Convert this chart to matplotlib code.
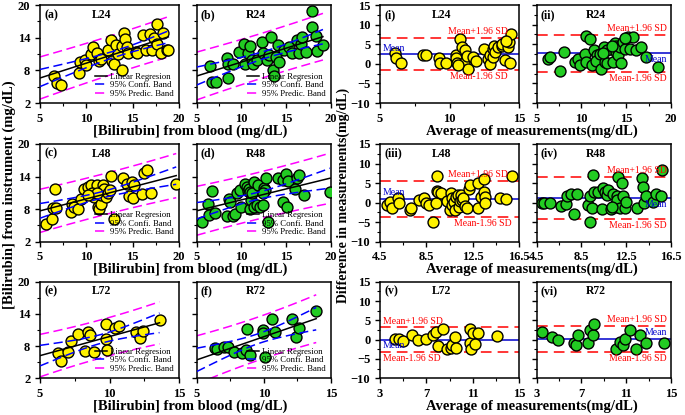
import numpy as np
import matplotlib
import matplotlib.pyplot as plt
from matplotlib.ticker import AutoMinorLocator

matplotlib.use("agg")

plt.rcParams["font.family"] = ["Liberation Serif", "DejaVu Serif"]
plt.rcParams["font.weight"] = "bold"

# ---- scatter data: blood (x) vs instrument (y) ----
l24_x = [6.55, 6.87, 7.27, 9.2, 9.3, 9.86, 9.96, 10.47, 10.76, 11.2, 11.37, 11.6, 12.3, 12.7,
         12.8, 12.98, 13.2, 13.45, 13.8, 13.8, 14.07, 14.2, 14.35, 14.5, 15.36, 15.5, 16.1,
         16.4, 16.87, 17.05, 17.3, 17.6, 17.65, 18.1, 18.24, 18.67, 18.85]
l24_y = [6.9, 5.7, 5.3, 7.5, 9.6, 9.9, 8.9, 11.0, 12.2, 11.2, 9.7, 10.0, 11.8, 13.5,
         9.7, 9.1, 12.6, 11.0, 12.4, 8.1, 14.8, 13.7, 12.3, 11.1, 11.4, 11.2, 14.5,
         11.8, 14.6, 11.8, 13.9, 16.5, 12.9, 11.1, 14.8, 11.8, 11.7]
r24_x = [6.49, 6.75, 7.2, 8.35, 8.46, 8.46, 9.1, 9.76, 10.3, 10.38, 10.7, 11.0, 11.2, 11.3,
         11.7, 12.26, 12.44, 12.8, 13.07, 13.3, 13.56, 13.63, 13.9, 14.1, 14.2, 14.75, 15.35,
         15.6, 16.24, 16.46, 16.65, 16.8, 17.2, 17.84, 17.9, 18.3, 18.4, 19.1]
r24_y = [8.76, 5.87, 5.87, 10.2, 9.25, 6.67, 9.25, 11.4, 12.8, 9.25, 11.2, 12.4, 9.9, 9.25,
         9.9, 13.2, 11.1, 9.9, 10.8, 14.2, 8.0, 7.0, 10.5, 12.6, 9.6, 11.8, 12.3,
         11.2, 13.5, 11.1, 12.9, 14.2, 11.4, 18.9, 16.0, 14.3, 11.6, 12.6]
l48_x = [5.63, 6.3, 6.36, 6.77, 6.6, 8.3, 8.5, 8.7, 9.1, 9.4, 9.8, 10.2, 10.5, 10.8, 11.1,
         11.2, 11.27, 11.37, 11.6, 11.6, 11.8, 11.9, 12.1, 12.3, 12.55, 12.7, 13.0, 14.0,
         14.4, 14.6, 14.9, 15.0, 15.1, 16.0, 16.2, 16.5, 16.98, 19.7, 10.6, 11.1, 10.2]
l48_y = [5.3, 6.2, 8.2, 8.2, 11.8, 7.5, 9.0, 8.4, 8.0, 9.8, 11.8, 12.1, 12.4, 10.3, 11.5,
         12.4, 8.4, 8.0, 9.0, 10.6, 12.4, 11.7, 10.3, 10.9, 11.5, 14.1, 6.2, 13.8,
         12.7, 10.4, 13.0, 10.1, 12.4, 10.7, 14.7, 15.2, 10.9, 12.7, 10.9, 10.9, 10.6]
r48_x = [5.56, 6.3, 6.38, 6.75, 7.05, 8.35, 8.65, 8.7, 9.1, 9.3, 9.55, 9.85, 10.0, 10.4,
         10.66, 10.75, 10.86, 10.9, 11.0, 11.07, 11.2, 11.35, 11.45, 11.7, 11.9, 12.07,
         12.44, 12.5, 12.6, 12.7, 12.96, 12.4, 14.1, 14.6, 14.6, 14.97, 15.05, 15.2, 15.98,
         16.2, 16.46, 17.0, 19.9]
r48_y = [5.7, 9.0, 7.0, 11.4, 7.2, 6.7, 9.8, 9.3, 6.8, 7.1, 10.9, 11.5, 8.4, 12.6,
         12.1, 11.3, 11.8, 11.2, 8.0, 9.6, 10.9, 13.0, 8.4, 8.7, 12.4, 8.4,
         8.8, 11.9, 11.5, 13.8, 5.7, 10.9, 13.8, 13.4, 9.3, 14.4, 8.4, 13.2, 11.8,
         13.8, 14.2, 10.6, 11.2]
l72_x = [6.3, 6.5, 7.04, 7.2, 7.76, 8.24, 8.48, 8.6, 8.9, 9.75, 9.75, 9.84, 10.4, 10.7,
         11.9, 12.2, 12.4, 13.6]
l72_y = [6.65, 5.3, 6.97, 8.95, 10.2, 7.1, 10.7, 10.1, 6.85, 12.2, 9.3, 7.3, 11.3, 11.8,
         10.6, 9.6, 10.8, 12.9]
r72_x = [6.36, 6.5, 7.06, 7.3, 7.8, 8.4, 8.65, 8.72, 9.0, 9.9, 9.9, 10.05, 10.6, 10.85,
         12.1, 12.4, 12.6, 13.9]
r72_y = [7.7, 7.45, 7.9, 7.8, 6.85, 6.65, 7.3, 11.1, 6.3, 11.0, 10.4, 5.9, 13.0, 10.6,
         13.1, 9.7, 11.3, 14.6]

# ---- Bland-Altman data: average (x) vs difference (y) ----
ba_l24_x = [6.08, 6.15, 6.5, 8.1, 8.3, 9.24, 9.3, 9.75, 10.44, 10.5, 10.56, 10.75, 10.88, 11.1,
            11.04, 11.24, 11.3, 10.6, 11.7, 11.9, 12.5, 12.75, 12.9, 12.9, 13.1, 13.15, 13.2,
            13.3, 13.5, 13.75, 13.8, 14.0, 14.2, 14.3, 14.35, 14.4, 14.1]
ba_l24_y = [2.8, 1.6, 0.24, 2.37, 2.37, 1.6, 0.24, 0.24, 2.37, 1.6, 0.24, 6.2, 4.33, 3.5,
            0.24, 1.95, -1.2, -0.2, 1.8, 0.7, 3.65, 1.1, 2.37, -0.1, 3.65, 1.8, 4.5,
            3.05, 4.33, 4.5, 5.0, 0.9, 4.33, 5.6, 0.24, 7.5, 5.9]
ba_r24_x = [6.3, 6.5, 7.6, 8.05, 9.28, 9.65, 9.84, 10.4, 10.5, 10.5, 11.0, 11.14, 11.4, 11.7,
            11.6, 12.07, 12.15, 12.5, 12.63, 12.8, 12.8, 13.56, 13.75, 13.9, 13.86, 14.1, 14.3,
            14.4, 14.6, 14.86, 15.16, 15.4, 15.8, 16.1, 16.65, 17.2, 18.58, 14.86, 12.44, 13.37]
ba_r24_y = [1.35, 1.77, -1.8, 3.05, 0.5, 1.1, -0.4, 2.6, 7.2, 0.5, 6.2, -0.4, 3.5, 2.2,
            0.75, 2.6, -1.2, 4.33, 0.5, 3.5, 0.24, 0.5, 5.35, 4.5, 3.05, 2.2, 4.2,
            0.24, 5.6, 3.65, 6.9, 3.65, 6.9, 3.5, 4.33, 1.8, -0.8, 6.7, 2.7, 4.6]
ba_l48_x = [5.1, 5.33, 5.5, 6.06, 6.1, 7.1, 7.2, 7.9, 8.33, 8.5, 8.7, 9.1, 9.3, 9.4, 9.44,
            9.53, 9.77, 10.3, 10.5, 10.6, 10.7, 10.7, 10.9, 10.99, 11.1, 11.2, 11.3, 11.4,
            11.5, 11.6, 11.7, 11.8, 12.0, 12.2, 12.3, 13.0, 13.0, 13.2, 13.5, 13.5, 13.6,
            13.6, 14.9, 15.4, 15.9]
ba_l48_y = [-0.6, 0.26, -1.3, 1.3, 0.0, -1.9, -1.5, 0.7, 1.3, 0.0, -0.6, -5.05, -0.2, 3.0, 6.7,
            2.65, 2.4, 0.4, -1.9, 2.4, 1.3, -0.6, 0.26, -1.9, 1.5, 2.0, -1.0, 0.4,
            2.0, 0.7, 1.3, -0.9, -1.3, 3.5, 4.55, 5.0, -1.5, 1.5, 6.0, 2.65, 1.5,
            -0.2, 1.3, 0.94, 6.7]
ba_r48_x = [4.95, 5.15, 5.7, 6.7, 7.1, 7.2, 7.6, 7.8, 8.1, 9.1, 9.26, 9.3, 9.4, 9.56, 9.6,
            10.0, 10.3, 10.4, 10.6, 10.75, 10.9, 11.1, 11.35, 11.5, 11.6, 11.65, 11.7, 11.8,
            11.9, 12.1, 12.25, 12.4, 12.5, 13.45, 13.9, 13.97, 14.1, 14.3, 14.9, 15.2, 15.6,
            15.7, 11.2]
ba_r48_y = [0.0, -0.2, -0.2, -0.9, -0.4, 1.6, 2.2, -2.9, 2.2, -0.6, -4.9, 1.6, -1.3, 7.1, 2.8,
            2.8, -1.6, 3.7, 2.8, 2.0, 3.3, -1.6, 2.2, -0.6, -1.0, 1.6, 0.7, 6.6,
            -1.5, 5.0, 1.6, -1.5, 0.26, -1.5, 6.3, 4.1, -0.2, 1.8, 0.1, 2.2, 1.8,
            8.4, -1.0]
ba_l72_x = [4.3, 4.6, 4.96, 5.8, 6.3, 6.97, 7.6, 7.8, 7.97, 8.46, 8.8, 9.1, 9.24, 9.5, 9.53,
            10.77, 10.8, 10.86, 11.06, 11.2, 11.5, 13.07]
ba_l72_y = [0.17, 0.1, -0.34, 1.2, -0.1, 0.1, 1.2, 2.07, -1.6, 2.7, -2.4, -2.1, -1.4, 0.6, -2.2,
            2.7, -0.8, -2.4, 1.6, -1.1, 1.8, 0.95]
ba_r72_x = [3.45, 4.34, 4.94, 6.3, 6.5, 6.66, 7.6, 7.76, 8.06, 8.1, 10.1, 10.4, 10.74, 10.9,
            11.3, 11.9, 12.2, 12.8, 14.4]
ba_r72_y = [2.07, 0.78, -0.09, -0.95, -1.4, 1.2, -0.95, 2.5, 1.2, 4.0, -2.4, -0.5, -1.4, 0.09,
            2.5, -2.4, 1.2, -0.95, -0.78]

YELLOW = "#FFF200"
GREEN = "#22CC22"
FS_TICK = 9
FS_LAB = 10.5


def style_axis(ax, show_ylabels=True):
    ax.xaxis.set_minor_locator(AutoMinorLocator(2))
    ax.yaxis.set_minor_locator(AutoMinorLocator(2))
    ax.tick_params(which="major", direction="out", length=3.5, width=1, labelsize=FS_TICK)
    ax.tick_params(which="minor", direction="out", length=2, width=0.8)
    ax.tick_params(top=False, right=False)
    if not show_ylabels:
        ax.tick_params(labelleft=False)
    for s in ax.spines.values():
        s.set_linewidth(1.1)
    for lab in ax.get_xticklabels() + ax.get_yticklabels():
        lab.set_fontweight("bold")


def t95(n):
    return 1.96 + 2.5 / (n - 2)


def scatter_panel(ax, x, y, color, tag, name, xmax, show_ylabels):
    x = np.asarray(x)
    y = np.asarray(y)
    n = len(x)
    b, a = np.polyfit(x, y, 1)
    resid = y - (a + b * x)
    s = np.sqrt(np.sum(resid ** 2) / (n - 2))
    xm = x.mean()
    sxx = np.sum((x - xm) ** 2)
    xx = np.linspace(5, x.max(), 100)
    yy = a + b * xx
    t = t95(n)
    ci = t * s * np.sqrt(1 / n + (xx - xm) ** 2 / sxx)
    pi = t * s * np.sqrt(1 + 1 / n + (xx - xm) ** 2 / sxx)

    ax.scatter(x, y, s=62, c=color, edgecolors="black", linewidths=1.0, zorder=3)
    ax.plot(xx, yy, color="black", lw=1.1, zorder=4, label="Linear Regresion")
    ax.plot(xx, yy + ci, color="#0000FF", lw=1.1, dashes=(6, 3), zorder=4,
            label="95% Confi. Band")
    ax.plot(xx, yy - ci, color="#0000FF", lw=1.1, dashes=(6, 3), zorder=4)
    ax.plot(xx, yy + pi, color="#FF00FF", lw=1.1, dashes=(6, 3), zorder=2,
            label="95% Predic. Band")
    ax.plot(xx, yy - pi, color="#FF00FF", lw=1.1, dashes=(6, 3), zorder=2)

    ax.set_xlim(5, xmax)
    ax.set_ylim(2, 20)
    ax.set_xticks(np.arange(5, xmax + 1, 5))
    ax.set_yticks([2, 8, 14, 20])
    style_axis(ax, show_ylabels)
    ax.text(0.03, 0.9, tag, transform=ax.transAxes, fontsize=8.5, fontweight="bold",
            va="center", ha="left")
    ax.text(0.44, 0.9, name, transform=ax.transAxes, fontsize=8.5, fontweight="bold",
            va="center", ha="center")
    leg = ax.legend(loc="lower right", frameon=False, fontsize=6.3, handlelength=1.3,
                    handletextpad=0.4, labelspacing=0.05, borderaxespad=0.2)
    for txt in leg.get_texts():
        txt.set_fontweight("normal")


def ba_panel(ax, x, y, color, tag, name, xlim, xstep, text_pos):
    x = np.asarray(x)
    y = np.asarray(y)
    m = y.mean()
    sd = y.std(ddof=1)
    up, lo = m + 1.96 * sd, m - 1.96 * sd
    ax.scatter(x, y, s=62, c=color, edgecolors="black", linewidths=1.0, zorder=3)
    ax.axhline(m, color="#0000CC", lw=1.1, zorder=2)
    ax.axhline(up, color="#FF0000", lw=1.1, dashes=(7, 4), zorder=2)
    ax.axhline(lo, color="#FF0000", lw=1.1, dashes=(7, 4), zorder=2)
    ax.set_xlim(*xlim)
    ax.set_ylim(-10, 15)
    ax.set_xticks(np.arange(xlim[0], xlim[1] + 0.01, xstep))
    ax.set_yticks(np.arange(-10, 16, 5))
    style_axis(ax, tag in ("(i)", "(iii)", "(v)"))
    ax.text(0.03, 0.9, tag, transform=ax.transAxes, fontsize=8.5, fontweight="bold",
            va="center", ha="left")
    ax.text(0.44, 0.9, name, transform=ax.transAxes, fontsize=8.5, fontweight="bold",
            va="center", ha="center")
    # text_pos: (x_frac, ha, above?) for upper, mean, lower labels
    for (xf, ha, above), yv, lab, col in zip(text_pos, [up, m, lo],
                                             ["Mean+1.96 SD", "Mean", "Mean-1.96 SD"],
                                             ["#FF0000", "#0000CC", "#FF0000"]):
        off = 0.4 if above else -0.5
        ax.text(xf, yv + off, lab, transform=ax.get_yaxis_transform(), color=col,
                fontsize=7, fontweight="normal", ha=ha, va="bottom" if above else "top")


fig = plt.figure(figsize=(6.85, 4.15), dpi=100)
W, H = 685.0, 415.0


def add_ax(x0, x1, y0, y1):
    return fig.add_axes([x0 / W, 1 - y1 / H, (x1 - x0) / W, (y1 - y0) / H])


rows = [(5, 103), (144, 241.7), (281.7, 378.3)]
scat = [
    (l24_x, l24_y, YELLOW, "(a)", "L24", 20), (r24_x, r24_y, GREEN, "(b)", "R24", 20),
    (l48_x, l48_y, YELLOW, "(c)", "L48", 20), (r48_x, r48_y, GREEN, "(d)", "R48", 20),
    (l72_x, l72_y, YELLOW, "(e)", "L72", 15), (r72_x, r72_y, GREEN, "(f)", "R72", 15),
]
ba = [
    (ba_l24_x, ba_l24_y, YELLOW, "(i)", "L24", (5, 15), 5,
     [(0.92, "right", True), (0.02, "left", True), (0.92, "right", False)]),
    (ba_r24_x, ba_r24_y, GREEN, "(ii)", "R24", (5, 20), 5,
     [(0.97, "right", True), (0.97, "right", False), (0.97, "right", False)]),
    (ba_l48_x, ba_l48_y, YELLOW, "(iii)", "L48", (4.5, 16.5), 4,
     [(0.92, "right", True), (0.02, "left", True), (0.95, "right", False)]),
    (ba_r48_x, ba_r48_y, GREEN, "(iv)", "R48", (4.5, 16.5), 4,
     [(0.97, "right", True), (0.97, "right", False), (0.97, "right", False)]),
    (ba_l72_x, ba_l72_y, YELLOW, "(v)", "L72", (3, 15), 4,
     [(0.02, "left", True), (0.02, "left", False), (0.02, "left", False)]),
    (ba_r72_x, ba_r72_y, GREEN, "(vi)", "R72", (3, 15), 4,
     [(0.97, "right", True), (0.97, "right", True), (0.97, "right", False)]),
]

for r, (y0, y1) in enumerate(rows):
    axl = add_ax(40, 179, y0, y1)
    axr = add_ax(196.7, 331, y0, y1)
    for ax, spec, show in zip([axl, axr], scat[2 * r:2 * r + 2], [True, False]):
        x, y, c, tag, name, xmax = spec
        scatter_panel(ax, x, y, c, tag, name, xmax, show)
    bl = add_ax(380, 519, y0, y1)
    br = add_ax(536.7, 671, y0, y1)
    for ax, spec in zip([bl, br], ba[2 * r:2 * r + 2]):
        ba_panel(ax, *spec)
    fig.text(190 / W, 1 - (y1 + 28) / H, "[Bilirubin] from blood (mg/dL)",
             fontsize=FS_LAB, fontweight="bold", ha="center", va="center")
    fig.text(532 / W, 1 - (y1 + 28) / H, "Average of measurements(mg/dL)",
             fontsize=FS_LAB, fontweight="bold", ha="center", va="center")

fig.text(9 / W, 1 - 195 / H, "[Bilirubin] from instrument (mg/dL)", rotation=90,
         fontsize=FS_LAB, fontweight="bold", ha="center", va="center")
fig.text(343 / W, 1 - 195 / H, "Difference in measurements(mg/dL)", rotation=90,
         fontsize=10, fontweight="bold", ha="center", va="center")

fig.savefig("out.png", dpi=100)
